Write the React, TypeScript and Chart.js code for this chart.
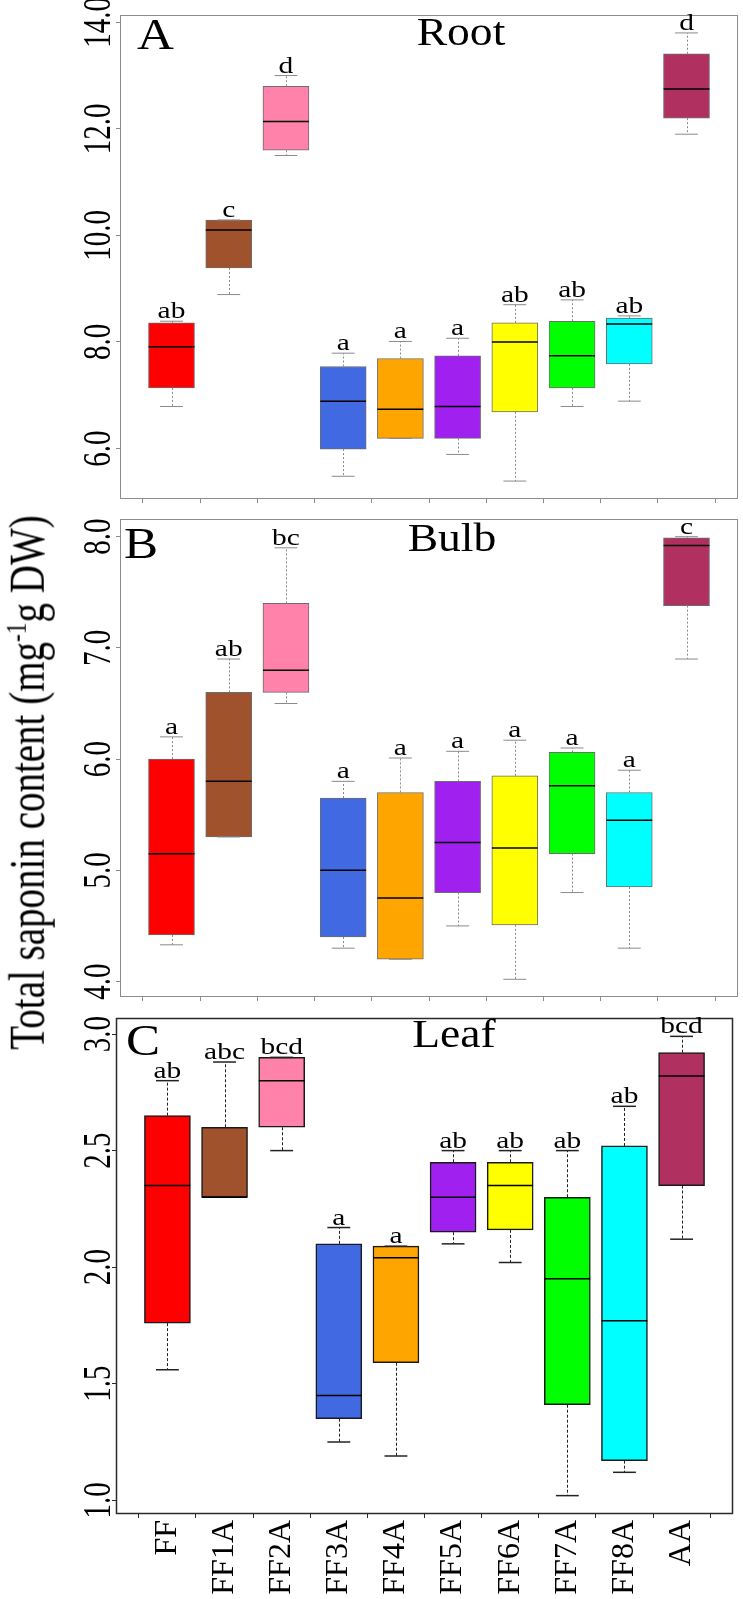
import React, { useEffect, useRef } from 'react';
import { Chart, registerables } from 'chart.js';

Chart.register(...registerables);

const FONT = '"Liberation Serif", "Times New Roman", serif';

const categories = ['FF', 'FF1A', 'FF2A', 'FF3A', 'FF4A', 'FF5A', 'FF6A', 'FF7A', 'FF8A', 'AA'];
const boxColors = ['#FF0000', '#A0522D', '#FF82AB', '#4169E1', '#FFA500', '#A020F0', '#FFFF00', '#00FF00', '#00FFFF', '#B03060'];

// Panel A - Root
const rootMin = [6.79, 8.89, 11.5, 5.48, 6.19, 5.89, 5.39, 6.79, 6.89, 11.9];
const rootQ1 = [7.14, 9.39, 11.6, 5.99, 6.19, 6.19, 6.69, 7.14, 7.59, 12.2];
const rootMedian = [7.91, 10.1, 12.14, 6.89, 6.74, 6.79, 8.0, 7.74, 8.34, 12.75];
const rootQ3 = [8.36, 10.29, 12.8, 7.54, 7.69, 7.74, 8.36, 8.39, 8.45, 13.41];
const rootMax = [8.39, 10.29, 13.0, 7.79, 8.01, 8.07, 8.7, 8.79, 8.49, 13.8];
const rootLetters = ['ab', 'c', 'd', 'a', 'a', 'a', 'ab', 'ab', 'ab', 'd'];
const rootTicks = [6, 8, 10, 12, 14];
const rootTickLabels = ['6.0', '8.0', '10.0', '12.0', '14.0'];

// Panel B - Bulb
const bulbMin = [4.33, 5.3, 6.5, 4.3, 4.2, 4.5, 4.02, 4.8, 4.3, 6.9];
const bulbQ1 = [4.42, 5.3, 6.6, 4.4, 4.2, 4.8, 4.51, 5.15, 4.85, 7.38];
const bulbMedian = [5.15, 5.8, 6.8, 5.0, 4.75, 5.25, 5.2, 5.76, 5.45, 7.92];
const bulbQ3 = [6.0, 6.6, 7.4, 5.65, 5.7, 5.8, 5.85, 6.06, 5.7, 7.99];
const bulbMax = [6.2, 6.9, 7.9, 5.8, 6.01, 6.07, 6.17, 6.1, 5.9, 8.0];
const bulbLetters = ['a', 'ab', 'bc', 'a', 'a', 'a', 'a', 'a', 'a', 'c'];
const bulbTicks = [4, 5, 6, 7, 8];
const bulbTickLabels = ['4.0', '5.0', '6.0', '7.0', '8.0'];

// Panel C - Leaf
const leafMin = [1.56, 2.3, 2.5, 1.25, 1.19, 2.1, 2.02, 1.02, 1.12, 2.12];
const leafQ1 = [1.76, 2.3, 2.6, 1.35, 1.59, 2.15, 2.16, 1.41, 1.17, 2.35];
const leafMedian = [2.35, 2.3, 2.8, 1.45, 2.04, 2.3, 2.35, 1.95, 1.77, 2.82];
const leafQ3 = [2.65, 2.6, 2.9, 2.1, 2.09, 2.45, 2.45, 2.3, 2.52, 2.92];
const leafMax = [2.8, 2.88, 2.9, 2.17, 2.09, 2.5, 2.5, 2.5, 2.69, 2.99];
const leafLetters = ['ab', 'abc', 'bcd', 'a', 'a', 'ab', 'ab', 'ab', 'ab', 'bcd'];
const leafTicks = [1.0, 1.5, 2.0, 2.5, 3.0];
const leafTickLabels = ['1.0', '1.5', '2.0', '2.5', '3.0'];

type Panel = {
  min: number[]; q1: number[]; median: number[]; q3: number[]; max: number[];
  letters: string[]; ticks: number[]; tickLabels: string[];
  panelLetter: string; title: string;
  top: number; height: number; padTop: number; padRight: number; yWidth: number; xHeight: number;
  showLabels: boolean; dark: boolean;
  letterPos: [number, number]; titlePos: [number, number];
};

const panels: Panel[] = [
  {
    min: rootMin, q1: rootQ1, median: rootMedian, q3: rootQ3, max: rootMax,
    letters: rootLetters, ticks: rootTicks, tickLabels: rootTickLabels,
    panelLetter: 'A', title: 'Root',
    top: 0, height: 510, padTop: 15, padRight: 5, yWidth: 120, xHeight: 11,
    showLabels: false, dark: false, letterPos: [137, 49], titlePos: [461, 45],
  },
  {
    min: bulbMin, q1: bulbQ1, median: bulbMedian, q3: bulbQ3, max: bulbMax,
    letters: bulbLetters, ticks: bulbTicks, tickLabels: bulbTickLabels,
    panelLetter: 'B', title: 'Bulb',
    top: 510, height: 500, padTop: 9, padRight: 5, yWidth: 120, xHeight: 13,
    showLabels: false, dark: false, letterPos: [124, 48], titlePos: [452, 41],
  },
  {
    min: leafMin, q1: leafQ1, median: leafMedian, q3: leafQ3, max: leafMax,
    letters: leafLetters, ticks: leafTicks, tickLabels: leafTickLabels,
    panelLetter: 'C', title: 'Leaf',
    top: 1010, height: 589, padTop: 8, padRight: 10, yWidth: 116, xHeight: 85,
    showLabels: true, dark: true, letterPos: [126, 45], titlePos: [454, 37],
  },
];

function stretchText(ctx: CanvasRenderingContext2D, text: string, x: number, y: number, sx: number, align: CanvasTextAlign) {
  ctx.save();
  ctx.translate(x, y);
  ctx.scale(sx, 1);
  ctx.textAlign = align;
  ctx.textBaseline = 'alphabetic';
  ctx.fillText(text, 0, 0);
  ctx.restore();
}

function makeChart(canvas: HTMLCanvasElement, p: Panel) {
  const lo = Math.min(...p.min);
  const hi = Math.max(...p.max);
  const pad = (hi - lo) * 0.04;
  const frameColor = p.dark ? '#2a2a2a' : '#8c8c8c';
  const whiskerColor = p.dark ? '#222222' : '#8a8a8a';

  const plugin = {
    id: 'boxplotExtras',
    afterDatasetsDraw(chart: any) {
      const ctx: CanvasRenderingContext2D = chart.ctx;
      const x = chart.scales.x;
      const y = chart.scales.y;
      const line = (x1: number, y1: number, x2: number, y2: number) => {
        ctx.beginPath();
        ctx.moveTo(x1, y1);
        ctx.lineTo(x2, y2);
        ctx.stroke();
      };
      ctx.save();
      categories.forEach((_, i) => {
        const c = i + 1;
        const cx = Math.round(x.getPixelForValue(c)) + 0.5;
        const sL = x.getPixelForValue(c - 0.2);
        const sR = x.getPixelForValue(c + 0.2);
        const bL = x.getPixelForValue(c - 0.4);
        const bR = x.getPixelForValue(c + 0.4);
        const yMax = y.getPixelForValue(p.max[i]);
        const yMin = y.getPixelForValue(p.min[i]);
        const yQ1 = y.getPixelForValue(p.q1[i]);
        const yQ3 = y.getPixelForValue(p.q3[i]);
        const yMed = y.getPixelForValue(p.median[i]);
        ctx.strokeStyle = whiskerColor;
        ctx.lineWidth = 1;
        ctx.setLineDash(p.dark ? [3, 2] : [2, 2]);
        if (yMax < yQ3) line(cx, yQ3, cx, yMax);
        if (yMin > yQ1) line(cx, yQ1, cx, yMin);
        ctx.setLineDash([]);
        ctx.lineWidth = p.dark ? 1.5 : 1;
        line(sL, yMax, sR, yMax);
        line(sL, yMin, sR, yMin);
        ctx.strokeStyle = '#000';
        ctx.lineWidth = 1.5;
        line(bL, yMed, bR, yMed);
      });
      ctx.restore();
    },
    afterDraw(chart: any) {
      const ctx: CanvasRenderingContext2D = chart.ctx;
      const a = chart.chartArea;
      const x = chart.scales.x;
      const y = chart.scales.y;
      ctx.save();
      // frame
      ctx.strokeStyle = frameColor;
      ctx.lineWidth = p.dark ? 1.5 : 1;
      ctx.strokeRect(a.left + 0.5, a.top + 0.5, a.right - a.left - 1, a.bottom - a.top - 1);
      ctx.fillStyle = '#000';
      // significance letters
      ctx.font = `23px ${FONT}`;
      categories.forEach((_, i) => {
        const cx = x.getPixelForValue(i + 1);
        const yy = y.getPixelForValue(p.max[i]) - 3;
        stretchText(ctx, p.letters[i], cx, yy, 1.28, 'center');
      });
      // panel letter and title
      ctx.font = `44px ${FONT}`;
      stretchText(ctx, p.panelLetter, p.letterPos[0], p.letterPos[1], 1.16, 'left');
      ctx.font = `40px ${FONT}`;
      stretchText(ctx, p.title, p.titlePos[0], p.titlePos[1], 1.14, 'center');
      // y tick labels (rotated)
      ctx.font = `29px ${FONT}`;
      p.ticks.forEach((v, i) => {
        const py = y.getPixelForValue(v);
        ctx.save();
        ctx.translate(110, py);
        ctx.rotate(-Math.PI / 2);
        ctx.scale(1, 1.35);
        ctx.textAlign = 'center';
        ctx.textBaseline = 'alphabetic';
        ctx.fillText(p.tickLabels[i], 0, 0);
        ctx.restore();
      });
      ctx.restore();
    },
  };

  return new Chart(canvas, {
    type: 'bar',
    data: {
      datasets: [
        {
          data: categories.map((_, i) => ({ x: i + 1, y: [p.q1[i], p.q3[i]] })) as any,
          backgroundColor: boxColors,
          borderColor: p.dark ? '#1a1a1a' : 'rgba(60,60,60,0.75)',
          borderWidth: p.dark ? 1.5 : 1,
          borderSkipped: false,
          barThickness: 46,
        },
      ],
    },
    options: {
      animation: false,
      responsive: false,
      devicePixelRatio: 1,
      layout: { padding: { top: p.padTop, right: p.padRight, left: 0, bottom: 0 } },
      plugins: { legend: { display: false }, tooltip: { enabled: false }, title: { display: false } },
      scales: {
        x: {
          type: 'linear',
          min: 0.1,
          max: 10.9,
          bounds: 'data',
          offset: false,
          grid: { drawOnChartArea: false, drawTicks: true, tickLength: 4, color: frameColor },
          border: { display: false },
          ticks: {
            display: p.showLabels,
            autoSkip: false,
            minRotation: 90,
            maxRotation: 90,
            padding: 2,
            color: '#000',
            font: { family: FONT, size: 32 },
            callback: (v: any) => categories[Math.round(Number(v)) - 1] ?? '',
          },
          afterBuildTicks: (s: any) => {
            s.ticks = categories.map((_, i) => ({ value: i + 1 }));
          },
          afterFit: (s: any) => {
            s.height = p.xHeight;
          },
        },
        y: {
          type: 'linear',
          min: lo - pad,
          max: hi + pad,
          bounds: 'data',
          grid: { drawOnChartArea: false, drawTicks: true, tickLength: 4, color: frameColor },
          border: { display: false },
          ticks: { display: false },
          afterBuildTicks: (s: any) => {
            s.ticks = p.ticks.map((v) => ({ value: v }));
          },
          afterFit: (s: any) => {
            s.width = p.yWidth;
          },
        },
      },
    } as any,
    plugins: [plugin],
  });
}

export default function App() {
  const refA = useRef<HTMLCanvasElement>(null);
  const refB = useRef<HTMLCanvasElement>(null);
  const refC = useRef<HTMLCanvasElement>(null);

  useEffect(() => {
    const refs = [refA, refB, refC];
    const charts = panels.map((p, i) => makeChart(refs[i].current as HTMLCanvasElement, p));
    return () => charts.forEach((c) => c.destroy());
  }, []);

  const refs = [refA, refB, refC];
  return (
    <div style={{ position: 'absolute', left: 0, top: 0, width: 743, height: 1599, background: '#fff', overflow: 'hidden' }}>
      {panels.map((p, i) => (
        <canvas
          key={p.panelLetter}
          ref={refs[i]}
          width={743}
          height={p.height}
          style={{ position: 'absolute', left: 0, top: p.top, width: 743, height: p.height }}
        />
      ))}
      <div
        style={{
          position: 'absolute',
          left: 26 - 300,
          top: 782 - 19.5,
          width: 600,
          height: 39,
          lineHeight: '39px',
          fontFamily: FONT,
          fontSize: 39,
          textAlign: 'center',
          whiteSpace: 'nowrap',
          color: '#000',
          transform: 'rotate(-90deg) scaleY(1.3)',
          transformOrigin: '50% 50%',
        }}
      >
        Total saponin content (mg<sup style={{ fontSize: '0.6em', lineHeight: 0, verticalAlign: '0.6em' }}>-1</sup>g DW)
      </div>
    </div>
  );
}
